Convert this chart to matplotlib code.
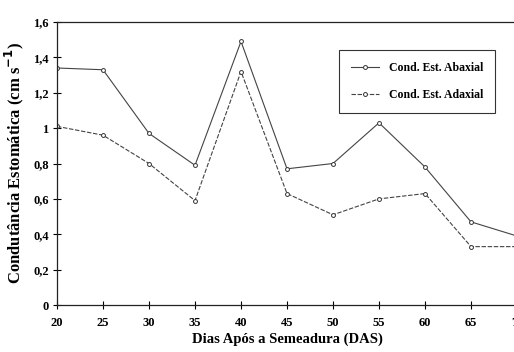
import numpy as np
import matplotlib
matplotlib.use("Agg")
import matplotlib.pyplot as plt

das = [20, 25, 30, 35, 40, 45, 50, 55, 60, 65, 70]
abaxial = [1.34, 1.33, 0.97, 0.79, 1.49, 0.77, 0.80, 1.03, 0.78, 0.47, 0.39]
adaxial = [1.01, 0.96, 0.80, 0.59, 1.32, 0.63, 0.51, 0.60, 0.63, 0.33, 0.33]
yticks = [0, 0.2, 0.4, 0.6, 0.8, 1.0, 1.2, 1.4, 1.6]
ytick_labels = ['0', '0,2', '0,4', '0,6', '0,8', '1', '1,2', '1,4', '1,6']

plt.rcParams['font.family'] = ['Liberation Serif', 'DejaVu Serif']
plt.rcParams['font.weight'] = 'bold'

fig = plt.figure(figsize=(5.14, 3.52), dpi=100)
ax = fig.add_axes([57/514, 47/352, 460/514, 283/352])

ax.plot(das, abaxial, color='#444444', lw=0.8, marker='o', ms=2.8,
        mfc='white', mec='#333333', mew=0.7, label='Cond. Est. Abaxial')
ax.plot(das, adaxial, color='#444444', lw=0.8, ls=(0, (4, 1.5)), marker='o', ms=2.8,
        mfc='white', mec='#333333', mew=0.7, label='Cond. Est. Adaxial')

ax.set_xlim(20, 70)
ax.set_ylim(0, 1.6)
ax.set_xticks(das)
ax.set_yticks(yticks)
ax.set_yticklabels(ytick_labels)
ax.tick_params(direction='inout', length=6, width=0.8, labelsize=9, pad=3)
ax.tick_params(axis='x', pad=6)
for lab in ax.get_xticklabels() + ax.get_yticklabels():
    lab.set_fontweight('bold')

ax.spines['right'].set_visible(False)
for s in ['left', 'bottom', 'top']:
    ax.spines[s].set_linewidth(0.9)
    ax.spines[s].set_color('#222222')

ax.set_xlabel('Dias Após a Semeadura (DAS)', fontsize=10.5, fontweight='bold', labelpad=2)
ax.set_ylabel('Condutância Estomática (cm s$^{\\mathbf{-1}}$)', fontsize=12,
              fontweight='bold', labelpad=5)

leg = ax.legend(loc='upper left', bbox_to_anchor=(282/460, 1 - 28/283), frameon=True,
                fancybox=False, edgecolor='black', fontsize=8.5, handlelength=2.4,
                labelspacing=1.3, borderpad=1.0, borderaxespad=0)
leg.get_frame().set_linewidth(0.8)
for t in leg.get_texts():
    t.set_fontweight('bold')

fig.savefig('out.png', dpi=100)
